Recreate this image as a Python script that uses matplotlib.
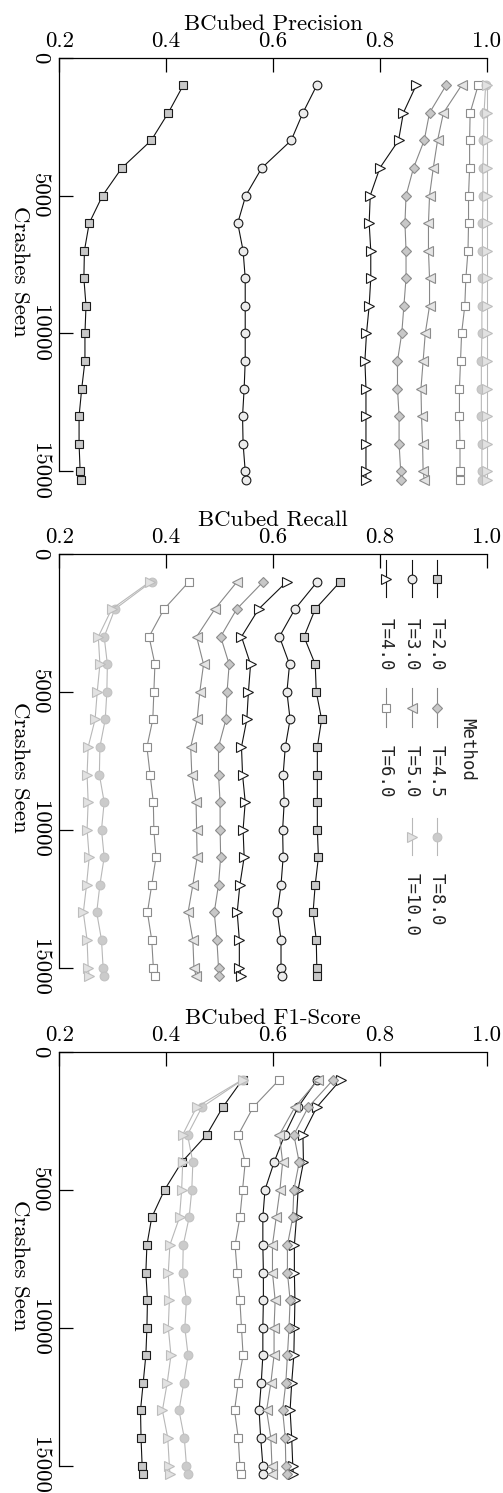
import matplotlib
matplotlib.use("Agg")
import matplotlib.pyplot as plt
from matplotlib.lines import Line2D

plt.rcParams['font.family'] = ['cmr10', 'DejaVu Serif']
plt.rcParams['axes.formatter.use_mathtext'] = True
plt.rcParams['mathtext.fontset'] = 'cm'

crashes = [1000, 2000, 3000, 4000, 5000, 6000, 7000, 8000, 9000, 10000,
           11000, 12000, 13000, 14000, 15000, 15300]

methods = ["T=2.0", "T=3.0", "T=4.0", "T=4.5", "T=5.0", "T=6.0", "T=8.0", "T=10.0"]

precision = {
    "T=2.0": [0.432, 0.404, 0.372, 0.317, 0.281, 0.256, 0.247, 0.246, 0.250, 0.248, 0.248, 0.242, 0.237, 0.237, 0.239, 0.241],
    "T=3.0": [0.682, 0.656, 0.634, 0.579, 0.549, 0.534, 0.544, 0.548, 0.548, 0.548, 0.548, 0.546, 0.543, 0.544, 0.548, 0.549],
    "T=4.0": [0.868, 0.844, 0.835, 0.800, 0.782, 0.780, 0.783, 0.783, 0.780, 0.775, 0.772, 0.774, 0.774, 0.774, 0.774, 0.774],
    "T=4.5": [0.924, 0.893, 0.883, 0.863, 0.849, 0.847, 0.849, 0.849, 0.845, 0.841, 0.833, 0.833, 0.836, 0.836, 0.839, 0.839],
    "T=5.0": [0.953, 0.919, 0.908, 0.900, 0.893, 0.891, 0.891, 0.893, 0.893, 0.885, 0.881, 0.877, 0.878, 0.880, 0.881, 0.883],
    "T=6.0": [0.984, 0.969, 0.968, 0.968, 0.966, 0.966, 0.965, 0.961, 0.959, 0.953, 0.951, 0.949, 0.949, 0.950, 0.950, 0.950],
    "T=8.0": [0.998, 0.995, 0.994, 0.993, 0.993, 0.992, 0.992, 0.992, 0.991, 0.991, 0.990, 0.990, 0.990, 0.991, 0.991, 0.991],
    "T=10.0": [1.000, 1.000, 1.000, 1.000, 1.000, 1.000, 1.000, 1.000, 1.000, 1.000, 1.000, 1.000, 1.000, 1.000, 1.000, 1.000],
}

recall = {
    "T=2.0": [0.726, 0.679, 0.658, 0.679, 0.681, 0.691, 0.683, 0.683, 0.683, 0.683, 0.685, 0.679, 0.675, 0.681, 0.682, 0.683],
    "T=3.0": [0.683, 0.641, 0.612, 0.631, 0.626, 0.632, 0.623, 0.619, 0.621, 0.618, 0.619, 0.615, 0.608, 0.615, 0.615, 0.616],
    "T=4.0": [0.626, 0.573, 0.541, 0.558, 0.554, 0.551, 0.541, 0.543, 0.548, 0.544, 0.546, 0.538, 0.533, 0.537, 0.537, 0.540],
    "T=4.5": [0.582, 0.532, 0.502, 0.518, 0.514, 0.512, 0.498, 0.498, 0.501, 0.501, 0.502, 0.498, 0.490, 0.495, 0.498, 0.499],
    "T=5.0": [0.533, 0.491, 0.457, 0.470, 0.463, 0.458, 0.446, 0.448, 0.456, 0.457, 0.458, 0.450, 0.441, 0.450, 0.452, 0.456],
    "T=6.0": [0.443, 0.396, 0.368, 0.379, 0.377, 0.375, 0.364, 0.370, 0.376, 0.377, 0.381, 0.373, 0.365, 0.373, 0.376, 0.379],
    "T=8.0": [0.373, 0.304, 0.284, 0.290, 0.289, 0.286, 0.276, 0.275, 0.284, 0.279, 0.284, 0.276, 0.270, 0.279, 0.282, 0.284],
    "T=10.0": [0.370, 0.298, 0.273, 0.276, 0.271, 0.267, 0.254, 0.252, 0.254, 0.252, 0.256, 0.251, 0.245, 0.252, 0.254, 0.256],
}

f1 = {
    "T=2.0": [0.543, 0.506, 0.476, 0.429, 0.397, 0.373, 0.364, 0.362, 0.365, 0.364, 0.362, 0.357, 0.352, 0.353, 0.355, 0.357],
    "T=3.0": [0.683, 0.647, 0.622, 0.602, 0.585, 0.581, 0.581, 0.582, 0.582, 0.581, 0.581, 0.578, 0.574, 0.577, 0.581, 0.582],
    "T=4.0": [0.727, 0.682, 0.656, 0.657, 0.647, 0.644, 0.640, 0.640, 0.641, 0.640, 0.639, 0.635, 0.632, 0.635, 0.637, 0.638],
    "T=4.5": [0.713, 0.666, 0.639, 0.649, 0.639, 0.637, 0.627, 0.627, 0.632, 0.630, 0.627, 0.624, 0.618, 0.623, 0.624, 0.626],
    "T=5.0": [0.685, 0.641, 0.612, 0.618, 0.613, 0.606, 0.599, 0.599, 0.604, 0.602, 0.602, 0.596, 0.588, 0.596, 0.598, 0.599],
    "T=6.0": [0.612, 0.563, 0.535, 0.548, 0.543, 0.538, 0.529, 0.533, 0.538, 0.541, 0.544, 0.535, 0.528, 0.535, 0.538, 0.541],
    "T=8.0": [0.544, 0.467, 0.440, 0.450, 0.448, 0.443, 0.432, 0.431, 0.438, 0.435, 0.441, 0.433, 0.424, 0.434, 0.438, 0.440],
    "T=10.0": [0.543, 0.457, 0.431, 0.431, 0.429, 0.425, 0.407, 0.404, 0.406, 0.404, 0.409, 0.402, 0.393, 0.403, 0.406, 0.407],
}

panels = [("BCubed Precision", precision), ("BCubed Recall", recall), ("BCubed F1-Score", f1)]

# marker, face, edge, line colour, marker size
styles = {
    "T=2.0": ("s", "#c8c8c8", "#1a1a1a", "#111111", 5.6),
    "T=3.0": ("o", "#ececec", "#1a1a1a", "#111111", 6.3),
    "T=4.0": (">", "#ffffff", "#1a1a1a", "#111111", 7.5),
    "T=4.5": ("D", "#c8c8c8", "#8c8c8c", "#888888", 5.4),
    "T=5.0": ("<", "#e4e4e4", "#8c8c8c", "#888888", 7.5),
    "T=6.0": ("s", "#ffffff", "#8c8c8c", "#888888", 5.6),
    "T=8.0": ("o", "#cbcbcb", "#c2c2c2", "#b8b8b8", 6.3),
    "T=10.0": (">", "#e2e2e2", "#bdbdbd", "#b8b8b8", 7.5),
}

W, H = 503, 1493
fig = plt.figure(figsize=(W / 100, H / 100), dpi=100)

left_px, width_px = 59.3, 427.4
px_per = 0.02757
ymax = 15500
tops = [57.7, 554, 1052]

for (title, data), top in zip(panels, tops):
    h = ymax * px_per
    ax = fig.add_axes([left_px / W, 1 - (top + h) / H, width_px / W, h / H])
    for m in methods:
        mk, fc, ec, lc, ms = styles[m]
        ax.plot(data[m], crashes, color=lc, lw=0.8, marker=mk, ms=ms,
                mfc=fc, mec=ec, mew=0.8, clip_on=False)
    ax.set_xlim(0.2, 1.0)
    ax.set_ylim(ymax, 0)
    ax.xaxis.set_ticks_position('top')
    ax.xaxis.set_label_position('top')
    ax.set_xticks([0.2, 0.4, 0.6, 0.8, 1.0], ["0.2", "0.4", "0.6", "0.8", "1.0"])
    ax.set_yticks([0, 5000, 10000, 15000], ["0", "5000", "10000", "15000"])
    for lab in ax.get_yticklabels():
        lab.set_rotation(-90)
        lab.set_va('center')
    ax.tick_params(axis='both', direction='in', length=10, width=0.9,
                   labelsize=16.5, pad=5)
    ax.tick_params(axis='y', pad=7)
    for s in ['right', 'bottom']:
        ax.spines[s].set_visible(False)
    ax.spines['top'].set_linewidth(0.9)
    ax.spines['left'].set_linewidth(0.9)
    ax.spines['left'].set_bounds(0, 15000)
    ax.set_xlabel(title, fontsize=16.5, labelpad=1)
    ax.set_ylabel("Crashes Seen", fontsize=16.5, rotation=-90, labelpad=8,
                  va='center')
    ax.yaxis.set_label_coords(-0.092, 0.5)
    ax.patch.set_alpha(0)

# legend, drawn rotated like the rest of the chart
def fx(px):
    return px / W

def fy(py):
    return 1 - py / H

cols_x = [437, 412, 386]
rows = [(560, 597, 618), (688, 727, 745), (818, 855, 873)]
for i, m in enumerate(methods):
    col = i % 3
    row = i // 3
    x = cols_x[col]
    y0, y1, yt = rows[row]
    mk, fc, ec, lc, ms = styles[m]
    fig.add_artist(Line2D([fx(x), fx(x)], [fy(y0), fy(y1)], transform=fig.transFigure,
                          color=lc, lw=0.8))
    fig.add_artist(Line2D([fx(x)], [fy((y0 + y1) / 2)], transform=fig.transFigure,
                          marker=mk, ms=ms, mfc=fc, mec=ec, mew=0.8, lw=0))
    fig.text(fx(x), fy(yt), m, rotation=-90, ha='center', va='top',
             family='DejaVu Sans Mono', fontsize=12.5, color='#222222')

fig.text(fx(467), fy(750), "Method", rotation=-90, ha='center', va='center',
         family='DejaVu Sans Mono', fontsize=12.5, color='#222222')

fig.savefig("out.png", dpi=100)
